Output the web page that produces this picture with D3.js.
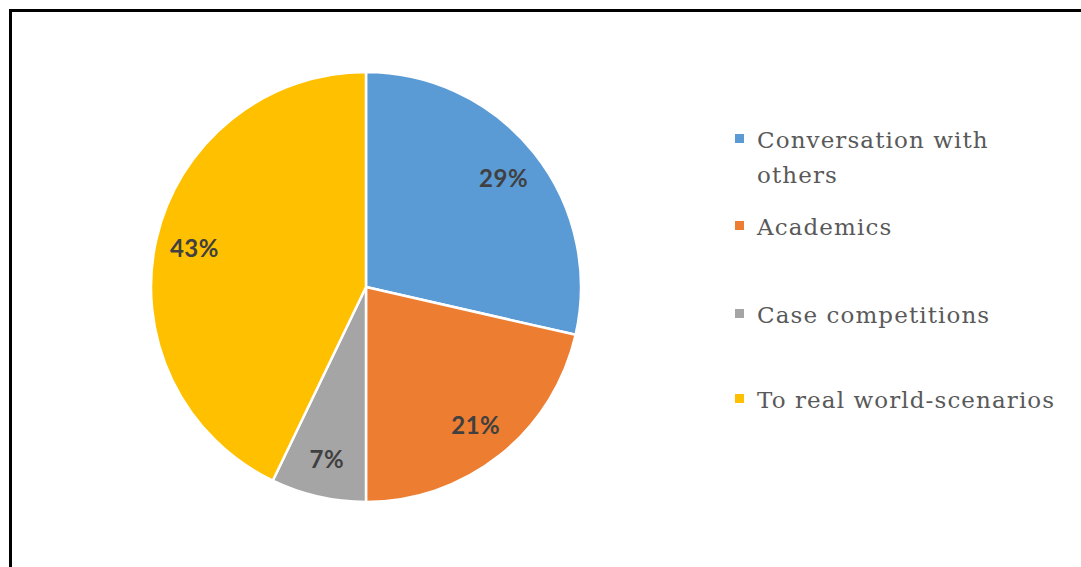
<!DOCTYPE html>
<html>
<head>
<meta charset="utf-8">
<script src="https://cdn.jsdelivr.net/npm/d3@7"></script>
<style>
  html, body { margin: 0; padding: 0; background: #fff; }
  svg { display: block; }
</style>
</head>
<body>
<svg id="chart" width="1081" height="567"></svg>
<script>
// Data (14 responses: 4, 3, 1, 6)
const categories = ["Conversation with others", "Academics", "Case competitions", "To real world-scenarios"];
const legendLines = [["Conversation with", "others"], ["Academics"], ["Case competitions"], ["To real world-scenarios"]];
const counts = [4, 3, 1, 6];
const colors = ["#5B9BD5", "#ED7D31", "#A5A5A5", "#FFC000"];

const svg = d3.select("#chart");
const W = 1081, H = 567;

// frame
svg.append("rect").attr("x", 0).attr("y", 0).attr("width", W).attr("height", H).attr("fill", "#fff");
svg.append("rect")
  .attr("x", 10.5).attr("y", 10.5)
  .attr("width", 1100).attr("height", 600)
  .attr("fill", "none").attr("stroke", "#000").attr("stroke-width", 3);

const cx = 366, cy = 287, R = 215;
const total = d3.sum(counts);
const data = categories.map((c, i) => ({ name: c, value: counts[i], color: colors[i] }));

const pie = d3.pie().value(d => d.value).sort(null);
const arcs = pie(data);
const arc = d3.arc().innerRadius(0).outerRadius(R);
const labelArc = d3.arc().innerRadius(176).outerRadius(176);

const g = svg.append("g").attr("transform", `translate(${cx},${cy})`);
g.selectAll("path.slice").data(arcs).enter().append("path")
  .attr("class", "slice")
  .attr("d", arc)
  .attr("fill", d => d.data.color)
  .attr("stroke", "#fff")
  .attr("stroke-width", 2.5)
  .attr("stroke-linejoin", "round");

const fmt = d3.format(".0%");
g.selectAll("text.lbl").data(arcs).enter().append("text")
  .attr("class", "lbl")
  .attr("transform", d => `translate(${labelArc.centroid(d)})`)
  .attr("text-anchor", "middle")
  .attr("dominant-baseline", "central")
  .attr("font-family", "Lato, 'Open Sans', sans-serif")
  .attr("font-weight", 700)
  .attr("font-size", 24)
  .attr("letter-spacing", 0.5)
  .attr("fill", "#404040")
  .text(d => fmt(d.data.value / total));

// Legend
const legendBaselines = [148, 235, 323, 408];
const lineGap = 35;
const legend = svg.append("g");
data.forEach((d, i) => {
  const base = legendBaselines[i];
  legend.append("rect")
    .attr("x", 735).attr("y", base - 14)
    .attr("width", 9).attr("height", 9)
    .attr("fill", d.color);
  const t = legend.append("text")
    .attr("x", 757).attr("y", base)
    .attr("font-family", "'DejaVu Serif', serif")
    .attr("font-size", 23)
    .attr("letter-spacing", 1.1)
    .attr("fill", "#595959");
  legendLines[i].forEach((ln, j) => {
    t.append("tspan").attr("x", 757).attr("y", base + j * lineGap).text(ln);
  });
});
</script>
</body>
</html>
